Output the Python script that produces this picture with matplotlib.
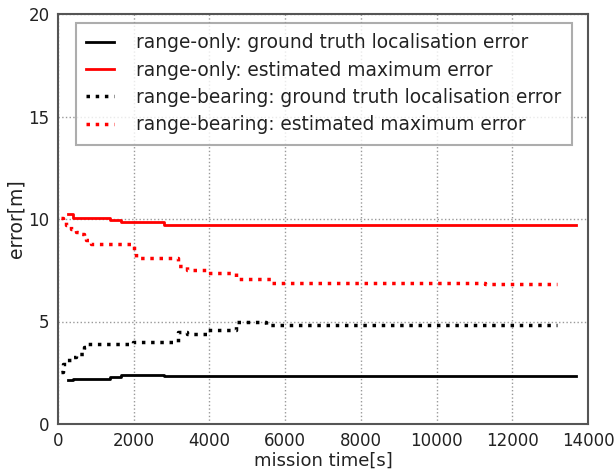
import numpy as np
import matplotlib.pyplot as plt

# range-only (solid) step data
ro_t = [272, 388, 1380, 1660, 2805, 11290, 13670]
ro_gt = [2.13, 2.21, 2.30, 2.38, 2.33, 2.33, 2.33]
ro_est = [10.26, 10.05, 9.96, 9.86, 9.69, 9.70, 9.70]

# range-bearing (dotted) step data
rb_t = [80, 120, 210, 250, 340, 470, 600, 690, 740, 870, 1970, 2010, 2060,
        3110, 3160, 3420, 3950, 4580, 4710, 5500, 5640, 11290, 13180]
rb_gt = [2.54, 2.95, 3.11, 3.11, 3.27, 3.40, 3.40, 3.76, 3.92, 3.92, 4.00, 4.00, 4.00,
         4.00, 4.49, 4.38, 4.57, 4.57, 4.98, 4.85, 4.85, 4.85, 4.85]
rb_est = [10.05, 9.85, 9.69, 9.69, 9.53, 9.37, 9.29, 9.10, 9.00, 8.80, 8.80, 8.47, 8.12,
          8.12, 7.71, 7.50, 7.39, 7.39, 7.09, 7.09, 6.88, 6.83, 6.83]

labels = ['range-only: ground truth localisation error',
          'range-only: estimated maximum error',
          'range-bearing: ground truth localisation error',
          'range-bearing: estimated maximum error']

fig = plt.figure(figsize=(6.16, 4.74), dpi=100)
ax = fig.add_axes([58 / 616, 1 - 424 / 474, 530 / 616, 410 / 474])

ax.step(ro_t, ro_gt, where='post', color='black', lw=2, label=labels[0])
ax.step(ro_t, ro_est, where='post', color='red', lw=2, label=labels[1])
ax.step(rb_t, rb_gt, where='post', color='black', lw=2.5, ls=':', label=labels[2])
ax.step(rb_t, rb_est, where='post', color='red', lw=2.5, ls=':', label=labels[3])

ax.set_xlim(0, 14000)
ax.set_ylim(0, 20)
ax.set_xticks(np.arange(0, 14001, 2000))
ax.set_yticks(np.arange(0, 21, 5))
ax.tick_params(length=0, labelsize=12, colors='#222222', pad=6)
ax.grid(True, ls=':', color='#999999', lw=1)
for s in ax.spines.values():
    s.set_color('#555555')
    s.set_linewidth(1.5)

ax.set_xlabel('mission time[s]', fontsize=13, labelpad=1, color='#222222')
ax.set_ylabel('error[m]', fontsize=13.5, labelpad=2, color='#222222')

leg = ax.legend(loc='upper left', fontsize=13.4, handlelength=1.5,
                handletextpad=1.2, borderpad=0.55, labelspacing=0.45,
                fancybox=False, borderaxespad=0,
                bbox_to_anchor=(18 / 530, 1 - 9 / 410))
leg.get_frame().set_edgecolor('#999999')
leg.get_frame().set_linewidth(1.5)
for t in leg.get_texts():
    t.set_color('#222222')

fig.savefig('out.png', dpi=100)
